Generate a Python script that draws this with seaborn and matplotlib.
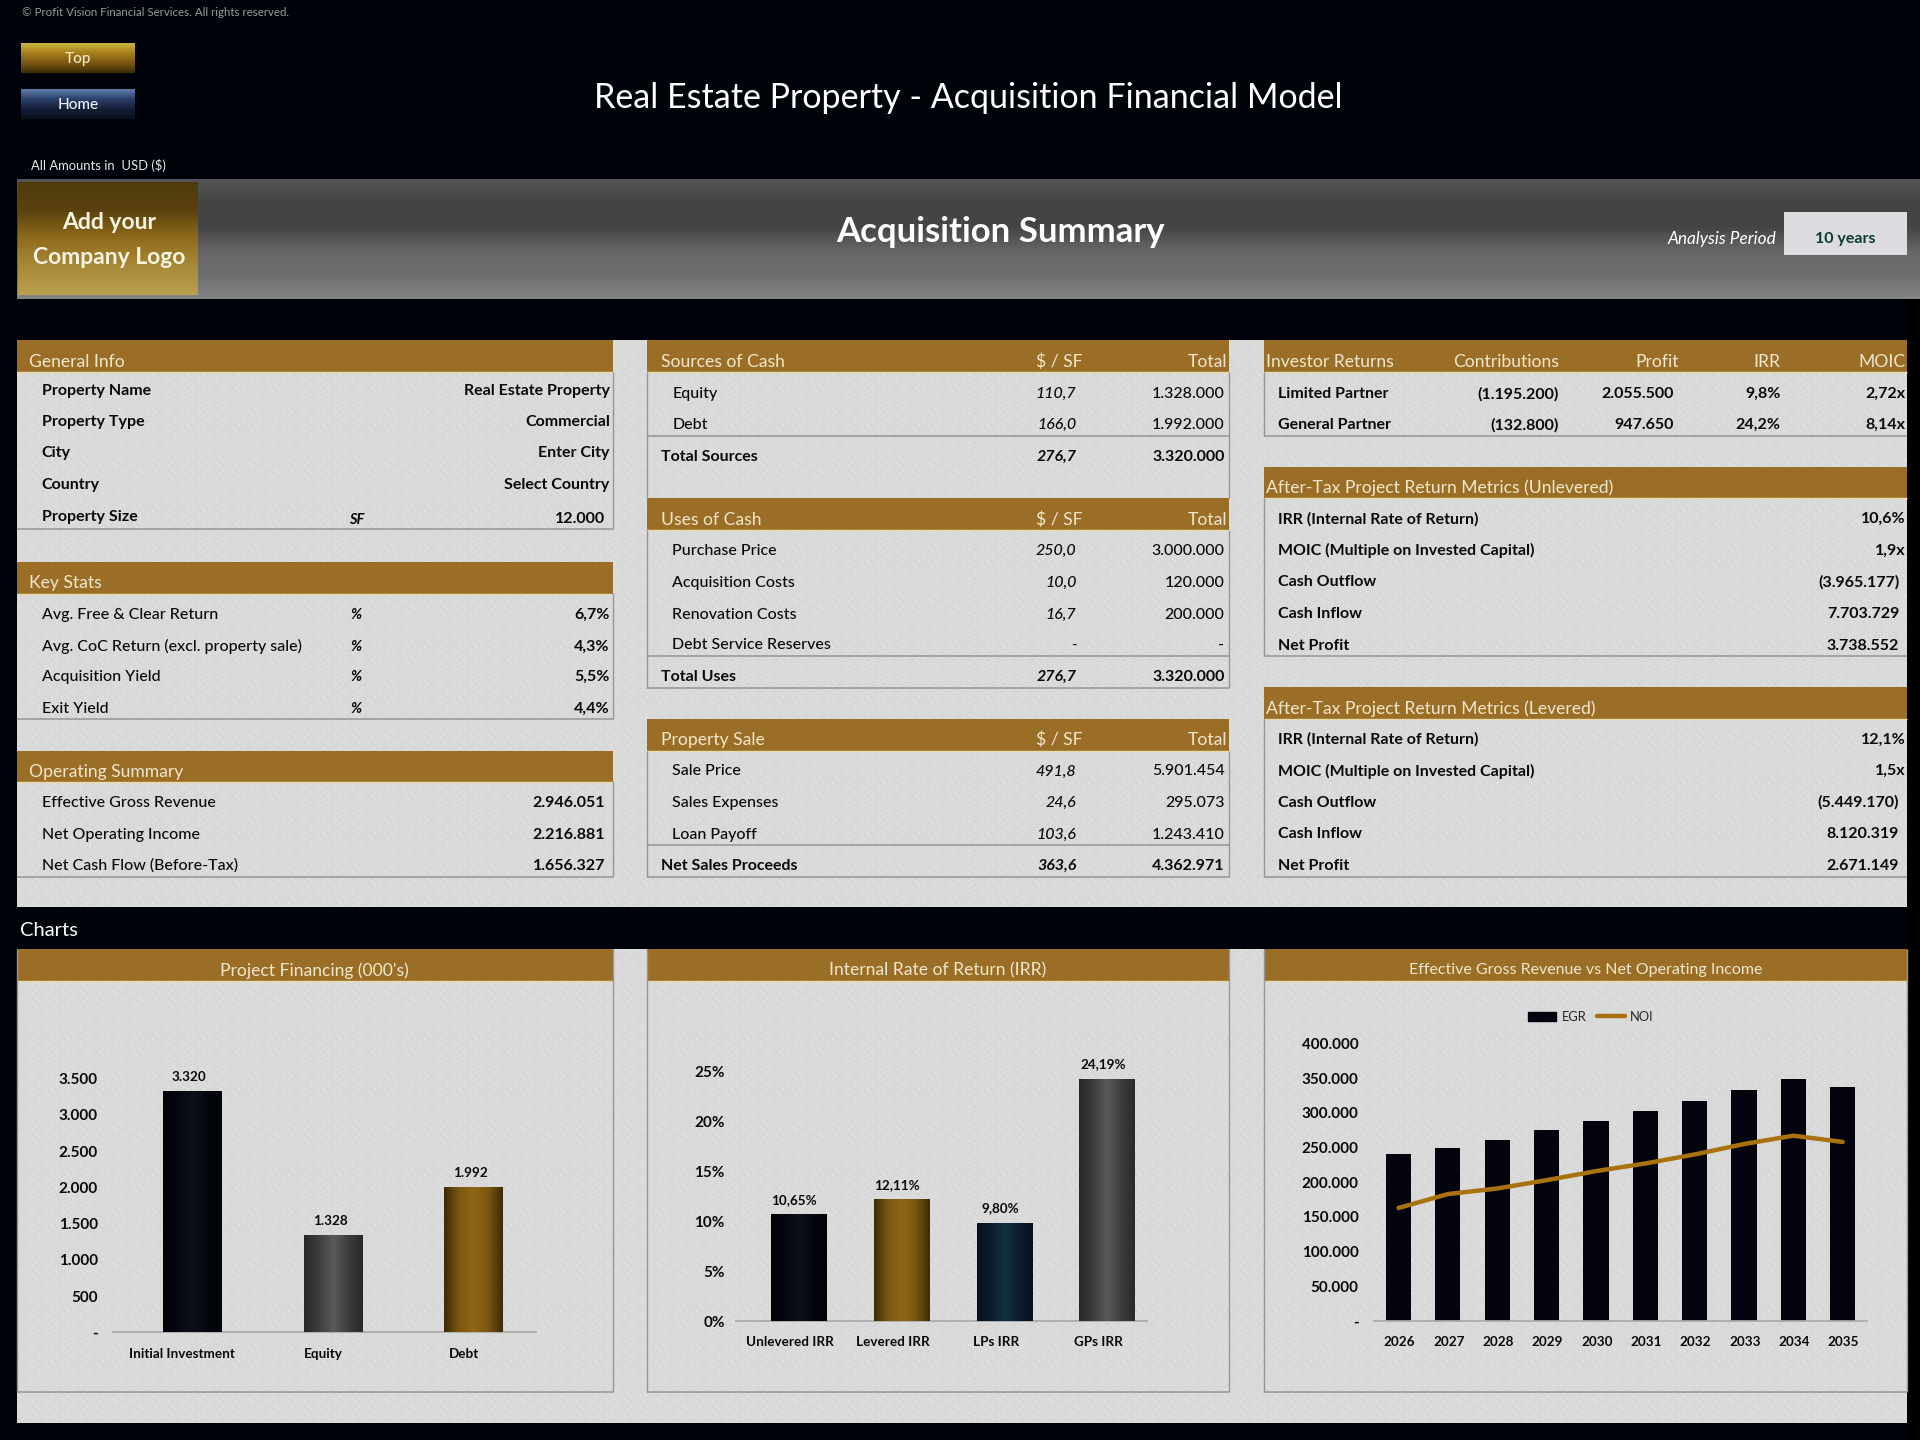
# -*- coding: utf-8 -*-
import numpy as np
import matplotlib
matplotlib.use('Agg')
import matplotlib.pyplot as plt
import seaborn as sns
from matplotlib.colors import LinearSegmentedColormap, to_rgb
from matplotlib.lines import Line2D
from matplotlib.patches import Patch, Rectangle

# ── Data ─────────────────────────────────────────────────────────────────────
general_labels = ['Property Name', 'Property Type', 'City', 'Country', 'Property Size']
general_values = ['Real Estate Property', 'Commercial', 'Enter City', 'Select Country', '12.000']
stats_labels = ['Avg. Free & Clear Return', 'Avg. CoC Return (excl. property sale)',
                'Acquisition Yield', 'Exit Yield']
stats_values = ['6,7%', '4,3%', '5,5%', '4,4%']
operating_labels = ['Effective Gross Revenue', 'Net Operating Income', 'Net Cash Flow (Before-Tax)']
operating_values = ['2.946.051', '2.216.881', '1.656.327']

sources_labels = ['Equity', 'Debt', 'Total Sources']
sources_sf = ['110,7', '166,0', '276,7']
sources_total = ['1.328.000', '1.992.000', '3.320.000']
uses_labels = ['Purchase Price', 'Acquisition Costs', 'Renovation Costs',
               'Debt Service Reserves', 'Total Uses']
uses_sf = ['250,0', '10,0', '16,7', '-', '276,7']
uses_total = ['3.000.000', '120.000', '200.000', '-', '3.320.000']
sale_labels = ['Sale Price', 'Sales Expenses', 'Loan Payoff', 'Net Sales Proceeds']
sale_sf = ['491,8', '24,6', '103,6', '363,6']
sale_total = ['5.901.454', '295.073', '1.243.410', '4.362.971']

investor_labels = ['Limited Partner', 'General Partner']
investor_contrib = ['(1.195.200)', '(132.800)']
investor_profit = ['2.055.500', '947.650']
investor_irr = ['9,8%', '24,2%']
investor_moic = ['2,72x', '8,14x']
metric_labels = ['IRR (Internal Rate of Return)', 'MOIC (Multiple on Invested Capital)',
                 'Cash Outflow', 'Cash Inflow', 'Net Profit']
unlevered_values = ['10,6%', '1,9x', '(3.965.177)', '7.703.729', '3.738.552']
levered_values = ['12,1%', '1,5x', '(5.449.170)', '8.120.319', '2.671.149']

financing_cats = ['Initial Investment', 'Equity', 'Debt']
financing_vals = [3320, 1328, 1992]
financing_ticks = [0, 500, 1000, 1500, 2000, 2500, 3000, 3500]
financing_ticklabels = ['-', '500', '1.000', '1.500', '2.000', '2.500', '3.000', '3.500']

irr_cats = ['Unlevered IRR', 'Levered IRR', 'LPs IRR', 'GPs IRR']
irr_vals = [10.65, 12.11, 9.80, 24.19]
irr_ticks = [0, 5, 10, 15, 20, 25]
irr_ticklabels = ['0%', '5%', '10%', '15%', '20%', '25%']

years = ['2026', '2027', '2028', '2029', '2030', '2031', '2032', '2033', '2034', '2035']
egr = [240000, 249000, 261000, 275000, 288000, 303000, 317000, 333000, 349000, 337000]
noi = [163000, 183000, 191000, 203000, 216000, 227000, 240000, 255000, 267000, 258000]
egr_ticks = [0, 50000, 100000, 150000, 200000, 250000, 300000, 350000, 400000]
egr_ticklabels = ['-', '50.000', '100.000', '150.000', '200.000', '250.000',
                  '300.000', '350.000', '400.000']

# ── Style ────────────────────────────────────────────────────────────────────
sns.set_theme(style='white')
plt.rcParams['font.family'] = ['Lato', 'DejaVu Sans']

W, H = 1568, 1176       # layout is measured on this grid, saved at 1920x1440
BLACK = '#00020A'
PANEL = '#D9D8D9'
SPECK = '#E9E8E8'
GOLD = '#9A6E27'
HEAD = '#F1E7CC'
INK = '#0A0A0A'
RULE = '#94949A'
FS = 11.5
HFS = 12.6

fig = plt.figure(figsize=(19.2, 14.4), dpi=100, facecolor=BLACK)
cv = fig.add_axes([0, 0, 1, 1])
cv.set_xlim(0, W); cv.set_ylim(H, 0); cv.axis('off')


def grad(ax, x0, x1, y0, y1, colors, vertical=True, z=1):
    cmap = LinearSegmentedColormap.from_list('g', colors)
    arr = np.linspace(0, 1, 256)
    arr = arr[:, None] if vertical else arr[None, :]
    ax.imshow(arr, cmap=cmap, extent=(x0, x1, y1, y0), aspect='auto',
              vmin=0, vmax=1, zorder=z, interpolation='bilinear')


def box(x0, x1, y0, y1, color, z=1, **kw):
    kw.setdefault('ec', 'none')
    cv.add_patch(Rectangle((x0, y0), x1 - x0, y1 - y0, fc=color, zorder=z, **kw))


def txt(x, y, s, ha='left', color=INK, size=FS, weight='normal', style='normal'):
    cv.text(x, y + 2, s, ha=ha, va='center', color=color, fontsize=size,
            fontweight=weight, fontstyle=style, zorder=5)


def rule(x0, x1, y, color=RULE):
    cv.plot([x0, x1], [y, y], color=color, lw=1.1, zorder=3, solid_capstyle='butt')


def side(x, y0, y1):
    cv.plot([x, x], [y0, y1], color=RULE, lw=1, zorder=3, solid_capstyle='butt')


def header(x0, x1, y0, title, tx=None, ha='left', size=HFS):
    box(x0, x1, y0, y0 + 26, GOLD, z=2)
    cv.plot([x0, x1], [y0 + 26, y0 + 26], color='#E9DCA8', lw=1, zorder=2.5, solid_capstyle='butt')
    txt(tx if tx is not None else x0 + 10, y0 + 15.5, title, ha=ha, color=HEAD, size=size)


def speckle(x0, x1, y0, y1):
    # paper grain of the sheet background, a fixed pixel pattern
    nx, ny = int((x1 - x0) * 1.2245), int((y1 - y0) * 1.2245)
    yy, xx = np.mgrid[0:ny, 0:nx]
    mask = ((xx * xx + 3 * yy * yy + xx * yy) % 17) < 4
    img = np.zeros((ny, nx, 4))
    img[..., :3] = to_rgb(SPECK)
    img[..., 3] = mask * 0.55
    cv.imshow(img, extent=(x0, x1, y1, y0), aspect='auto', zorder=1.1, interpolation='nearest')


# ── Background blocks ────────────────────────────────────────────────────────
box(14, 1557, 278, 1162, PANEL)
speckle(14, 1557, 278, 1162)
box(14, 1557, 741, 775, BLACK, z=2)
txt(16, 758, 'Charts', color='white', size=14.5)
for x0, x1 in [(14, 501), (528, 1004), (1032, 1557)]:
    side(x0, 775, 1137)
    side(x1, 775, 1137)
    rule(x0, x1, 1137)

# title block
box(1557, 1568, 244, H, '#000000', z=1.5)
grad(cv, 14, 1568, 146, 244, ['#555555', '#444444', '#454545', '#666666', '#6E6E6E', '#848684'])
grad(cv, 15, 162, 149, 241, ['#4F3A0A', '#5A420E', '#8F6C1C', '#A88A38', '#BBA04E'], z=2)
txt(89, 180, 'Add your', ha='center', color='#F8F4E4', size=16.5, weight='bold')
txt(89, 208, 'Company Logo', ha='center', color='#F8F4E4', size=16.5, weight='bold')
txt(817, 187.5, 'Acquisition Summary', ha='center', color='white', size=25, weight='bold')
txt(1451, 193.5, 'Analysis Period', ha='right', color='white', size=12.4, style='italic')
box(1457, 1557, 173, 208, '#DDDCE0', z=2, lw=0.9, edgecolor='#222222', linestyle=':')
txt(1507, 193.5, '10 years', ha='center', color='#0B3B2A', size=11.5, weight='bold')
txt(791, 78, 'Real Estate Property - Acquisition Financial Model', ha='center',
    color='white', size=24.5)
txt(18, 8.5, '© Profit Vision Financial Services. All rights reserved.', color='#9A9A9A', size=8.3)
txt(25, 133.5, 'All Amounts in  USD ($)', color='#E8E8E8', size=9.4)

grad(cv, 17, 110, 36, 60, ['#C9B73E', '#A97E1C', '#7A5710', '#3A2A08'], z=2)
txt(64, 46.5, 'Top', ha='center', color='#F4EBCB', size=11, weight='medium')
grad(cv, 17, 110, 73, 97, ['#5F7FAF', '#2B3F69', '#141E38', '#08101F'], z=2)
txt(64, 84, 'Home', ha='center', color='#EEF2F8', size=11, weight='medium')

# ── Column 1 ─────────────────────────────────────────────────────────────────
header(14, 501, 278, 'General Info')
for lab, val, y in zip(general_labels, general_values, [318, 344, 369, 395, 421]):
    txt(34, y - 1, lab, weight='bold')
    if lab == 'Property Size':
        txt(291, y + 2, 'SF', ha='center', style='italic', weight='bold', size=FS - 1)
        txt(494, y + 1, val, ha='right', weight='bold')
    else:
        txt(498, y - 1, val, ha='right', weight='bold')
rule(14, 501, 432)
side(501, 304, 432)

header(14, 501, 459, 'Key Stats')
for lab, val, y in zip(stats_labels, stats_values, [501, 527, 552, 578]):
    txt(34, y - 1, lab, weight='medium')
    txt(291, y - 1, '%', ha='center', style='italic', weight='bold', size=FS - 1)
    txt(498, y - 1, val, ha='right', weight='bold')
rule(14, 501, 587)
side(501, 484, 587)

header(14, 501, 613, 'Operating Summary')
for lab, val, y in zip(operating_labels, operating_values, [655, 681, 706]):
    txt(34, y - 1, lab, weight='medium')
    txt(494, y - 1, val, ha='right', weight='bold')
rule(14, 501, 716)
side(501, 638, 716)

# ── Column 2 ─────────────────────────────────────────────────────────────────
def money_block(title, y0, labels, sf, total, rows, rules, bottom):
    header(528, 1004, y0, title, tx=540)
    txt(884, y0 + 15.5, '$ / SF', ha='right', color=HEAD, size=HFS)
    txt(1002, y0 + 15.5, 'Total', ha='right', color=HEAD, size=HFS)
    for i, (lab, s, t, y) in enumerate(zip(labels, sf, total, rows)):
        last = i == len(labels) - 1
        w = 'bold' if last else 'medium'
        txt(540 if last else 549, y - 1, lab, weight=w)
        txt(879, y - 1, s, ha='right', style='italic', weight=w)
        txt(1000, y - 1, t, ha='right', weight=w)
    for y in rules:
        rule(528, 1004, y)
    side(528, y0 + 26, bottom)
    side(1004, y0 + 26, bottom)


money_block('Sources of Cash', 278, sources_labels, sources_sf, sources_total,
            [321, 346, 372], [356], 407)
money_block('Uses of Cash', 407, uses_labels, uses_sf, uses_total,
            [449, 475, 501, 526, 552], [536, 562], 562)
money_block('Property Sale', 587, sale_labels, sale_sf, sale_total,
            [629, 655, 681, 706], [690, 716], 716)

# ── Column 3 ─────────────────────────────────────────────────────────────────
header(1032, 1557, 278, 'Investor Returns', tx=1034)
for s, x in [('Contributions', 1273), ('Profit', 1371), ('IRR', 1454), ('MOIC', 1556)]:
    txt(x, 293.5, s, ha='right', color=HEAD, size=HFS)
for i, y in enumerate([321, 346]):
    txt(1044, y - 1, investor_labels[i], weight='bold')
    txt(1273, y - 1, investor_contrib[i], ha='right', weight='bold')
    txt(1367, y - 1, investor_profit[i], ha='right', weight='bold')
    txt(1454, y - 1, investor_irr[i], ha='right', weight='bold')
    txt(1556, y - 1, investor_moic[i], ha='right', weight='bold')
rule(1032, 1557, 356)
side(1032, 304, 356)


def metric_block(title, y0, vals):
    header(1032, 1557, y0, title, tx=1034)
    for k, (lab, val) in enumerate(zip(metric_labels, vals)):
        y = y0 + 41 + k * 25.8
        txt(1044, y, lab, weight='bold')
        txt(1556 if k < 2 else 1551, y, val, ha='right', weight='bold')
    rule(1032, 1557, y0 + 155)
    side(1032, y0 + 26, y0 + 155)


metric_block('After-Tax Project Return Metrics (Unlevered)', 381, unlevered_values)
metric_block('After-Tax Project Return Metrics (Levered)', 561, levered_values)

# chart headers
header(14, 501, 775, "Project Financing (000's)", tx=257, ha='center')
header(528, 1004, 775, 'Internal Rate of Return (IRR)', tx=766, ha='center')
header(1032, 1557, 775, 'Effective Gross Revenue vs Net Operating Income', tx=1295, ha='center', size=FS)

cv.set_xlim(0, W); cv.set_ylim(H, 0)


# ── Charts ───────────────────────────────────────────────────────────────────
def chart_axes(x0, x1, y0, y1):
    ax = fig.add_axes([x0 / W, 1 - y1 / H, (x1 - x0) / W, (y1 - y0) / H])
    ax.patch.set_alpha(0)
    sns.despine(ax=ax, left=True)
    ax.spines['bottom'].set_color('#ABABAB')
    ax.spines['bottom'].set_linewidth(1.3)
    return ax


def finish(ax, ticks, ticklabels, ypad, xpad):
    ax.set_yticks(ticks, ticklabels, fontweight='bold', fontsize=11, color=INK)
    ax.set_ylim(ticks[0], ticks[-1])
    ax.tick_params(axis='y', length=0, pad=ypad)
    ax.tick_params(axis='x', length=0, pad=xpad)
    ax.set_xlabel(''); ax.set_ylabel('')


def shade_bars(ax, ramps):
    xl, yl = ax.get_xlim(), ax.get_ylim()
    for bar, ramp in zip(ax.patches, ramps):
        x, w, h = bar.get_x(), bar.get_width(), bar.get_height()
        grad(ax, x, x + w, h, 0, ramp, vertical=False, z=3)
    ax.set_xlim(xl); ax.set_ylim(yl)


NAVY = ['#02030A', '#05070E', '#0E1218', '#05070E', '#02030A']
GREY = ['#26282A', '#3C3D3E', '#5A5A5A', '#3C3D3E', '#26282A']
BRONZE = ['#3B2A07', '#7A5710', '#8F6614', '#7A5710', '#3B2A07']
BLUE = ['#05101C', '#0C1E2E', '#14303F', '#0C1E2E', '#05101C']

# Project financing
ax1 = chart_axes(92.5, 437.5, 881, 1088)
sns.barplot(x=financing_cats, y=financing_vals, ax=ax1, width=0.417, color='#02030A',
            saturation=1, linewidth=0)
ax1.set_xlim(-0.56, 2.44)
finish(ax1, financing_ticks, financing_ticklabels, 11, 11.5)
ax1.set_xticks(np.arange(3) - 0.07, financing_cats, fontweight='bold', fontsize=9.7, color=INK)
shade_bars(ax1, [NAVY, GREY, BRONZE])
for i, v in enumerate(financing_vals):
    ax1.annotate(f'{v:,}'.replace(',', '.'), (i - 0.02, v), xytext=(0, 8), textcoords='offset points',
                 ha='center', fontsize=9.7, fontweight='bold', color=INK, annotation_clip=False)

# IRR
ax2 = chart_axes(601, 937, 875, 1079)
sns.barplot(x=irr_cats, y=irr_vals, ax=ax2, width=0.536, color='#02030A', saturation=1, linewidth=0)
ax2.set_xlim(-0.607, 3.393)
finish(ax2, irr_ticks, irr_ticklabels, 8, 10.5)
ax2.set_xticks(np.arange(4) - 0.08, irr_cats, fontweight='bold', fontsize=9.7, color=INK)
shade_bars(ax2, [NAVY, BRONZE, BLUE, GREY])
for i, v in enumerate(irr_vals):
    ax2.annotate(f'{v:.2f}%'.replace('.', ','), (i - 0.04, v), xytext=(0, 8), textcoords='offset points',
                 ha='center', fontsize=9.7, fontweight='bold', color=INK, annotation_clip=False)

# EGR vs NOI
ax3 = chart_axes(1122, 1525, 852, 1079)
sns.barplot(x=years, y=egr, ax=ax3, width=0.51, color='#03040D', saturation=1, linewidth=0)
sns.lineplot(x=np.arange(len(years)), y=noi, ax=ax3, color='#A9720F', lw=3.2, zorder=4)
ax3.set_xlim(-0.5, 9.5)
finish(ax3, egr_ticks, egr_ticklabels, 11, 10.5)
ax3.set_xticks(np.arange(10) + 0.02, years, fontweight='bold', fontsize=9.7, color=INK)
ax3.legend(handles=[Patch(color='#03040D', label='EGR'),
                    Line2D([0], [0], color='#A9720F', lw=3.2, label='NOI')],
           ncol=2, frameon=False, fontsize=9.3, loc='center', bbox_to_anchor=(0.44, 1.095),
           columnspacing=0.8, handlelength=2.2, handletextpad=0.4)

fig.savefig('out.png', dpi=100, facecolor=BLACK)
plt.close(fig)
